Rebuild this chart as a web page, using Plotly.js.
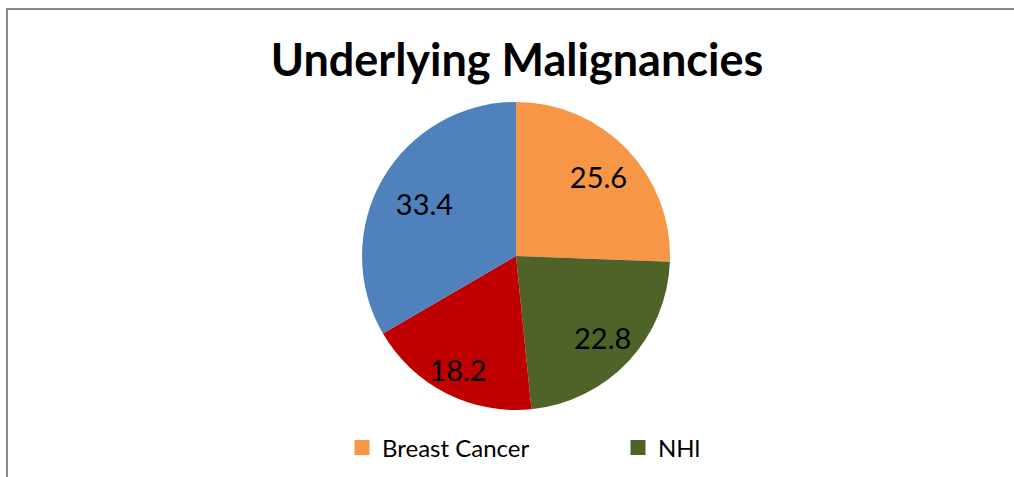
<!DOCTYPE html>
<html>
<head>
<meta charset="utf-8">
<script src="https://cdn.plot.ly/plotly-3.0.1.min.js"></script>
<style>
  html, body { margin: 0; padding: 0; background: #fff; }
  #frame { position: absolute; left: 6px; top: 8px; width: 1008px; height: 469px;
           border-left: 2px solid #8a8a8a; border-top: 2px solid #8a8a8a; box-sizing: border-box; }
  #chart { position: absolute; left: 0; top: 0; width: 1014px; height: 477px; }
</style>
</head>
<body>
<div id="frame"></div>
<div id="chart"></div>
<script>
const categories = ['Breast Cancer', 'NHl', 'Other A', 'Other B'];
const values = [25.6, 22.8, 18.2, 33.4];
const colors = ['#F79646', '#4F6228', '#C00000', '#4F81BD'];
const legendLabels = ['Breast Cancer', 'NHl'];
const legendColors = ['#F79646', '#4F6228'];

const W = 1014, H = 477;
const cx = 516, cy = 256, r = 154;
const rLabel = 197; // text-only ring so labels sit further out, as in the reference

function dom(rad) {
  return { x: [(cx - rad) / W, (cx + rad) / W], y: [1 - (cy + rad) / H, 1 - (cy - rad) / H] };
}

const common = {
  type: 'pie', labels: categories, values: values, sort: false,
  direction: 'clockwise', rotation: 0, showlegend: false, hoverinfo: 'skip'
};

const traces = [
  Object.assign({}, common, {
    marker: { colors: colors, line: { width: 0 } },
    textinfo: 'none',
    domain: dom(r)
  }),
  Object.assign({}, common, {
    marker: { colors: categories.map(() => 'rgba(0,0,0,0)'), line: { width: 0 } },
    textinfo: 'value',
    texttemplate: '%{value}',
    textposition: 'inside',
    insidetextorientation: 'horizontal',
    textfont: { family: 'Lato, sans-serif', size: 29, color: '#000' },
    domain: dom(rLabel)
  })
];

legendLabels.forEach((name, i) => {
  traces.push({
    type: 'scatter', mode: 'markers', x: [null], y: [null], name: name,
    marker: { symbol: 'square', size: 15, color: legendColors[i], line: { width: 0 } },
    showlegend: true
  });
});

const layout = {
  width: W, height: H,
  margin: { l: 0, r: 0, t: 0, b: 0 },
  paper_bgcolor: 'rgba(0,0,0,0)',
  plot_bgcolor: 'rgba(0,0,0,0)',
  font: { family: 'Lato, sans-serif', color: '#000' },
  title: {
    text: '<b>Underlying Malignancies</b>',
    font: { family: 'Lato, sans-serif', size: 45, color: '#000' },
    x: 517 / W, xanchor: 'center', xref: 'container',
    y: 1 - 60 / H, yanchor: 'middle', yref: 'container'
  },
  xaxis: { visible: false },
  yaxis: { visible: false },
  showlegend: true,
  legend: {
    orientation: 'h',
    x: 342 / W, xanchor: 'left',
    y: 1 - 448 / H, yanchor: 'middle',
    bgcolor: 'rgba(0,0,0,0)',
    entrywidth: 231,
    entrywidthmode: 'pixels',
    font: { family: 'Lato, sans-serif', size: 24, color: '#000' }
  }
};

Plotly.newPlot('chart', traces, layout, { displayModeBar: false, staticPlot: true });
</script>
</body>
</html>
